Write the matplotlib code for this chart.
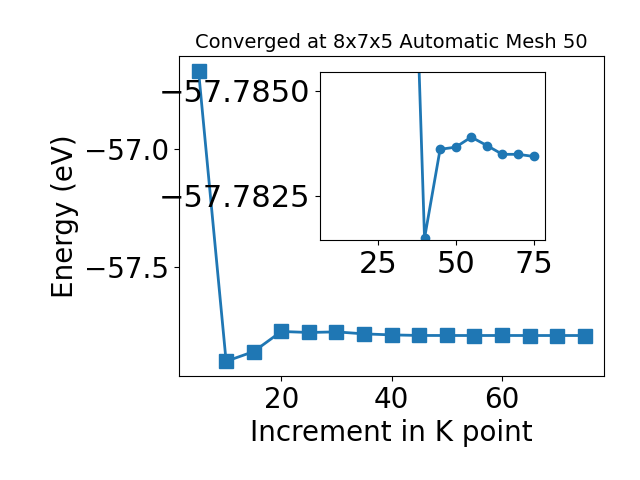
import matplotlib
matplotlib.use('Agg')
import matplotlib.pyplot as plt

# k point increment vs total energy
kpoints = [5, 10, 15, 20, 25, 30, 35, 40, 45, 50, 55, 60, 65, 70, 75]
energy = [-56.6695, -57.9016, -57.8603, -57.7751, -57.7794, -57.7768, -57.7853,
          -57.7896, -57.7920, -57.7921, -57.7922, -57.7921, -57.7922, -57.7922, -57.7922]

# zoomed values shown in the inset
inset_kpoints = [35, 40, 45, 50, 55, 60, 65, 70, 75]
inset_energy = [-57.7930, -57.78149, -57.78361, -57.78366, -57.78390,
                -57.78370, -57.78349, -57.78349, -57.78344]

fig = plt.figure(figsize=(6.4, 4.8), dpi=100)
ax = fig.add_axes([0.28, 0.217, 0.664, 0.666])
ax.plot(kpoints, energy, marker='s', markersize=10, lw=2, color='tab:blue')
ax.set_xlabel('Increment in K point', fontsize=20)
ax.set_ylabel('Energy (eV)', fontsize=20)
ax.set_title('Converged at 8x7x5 Automatic Mesh 50', fontsize=14)
ax.set_xticks([20, 40, 60])
ax.set_yticks([-57.0, -57.5])
ax.tick_params(axis='both', which='major', labelsize=20)

ins = fig.add_axes([0.5, 0.5, 0.352, 0.35])
ins.plot(inset_kpoints, inset_energy, marker='o', markersize=6, lw=2, color='tab:blue')
ins.set_xlim(6.45, 78.76)
ins.set_ylim(-57.78145, -57.78545)
ins.set_xticks([25, 50, 75])
ins.set_yticks([-57.785, -57.7825])
ins.ticklabel_format(axis='y', useOffset=False)
ins.tick_params(axis='both', which='major', labelsize=22)

plt.savefig('out.png')
